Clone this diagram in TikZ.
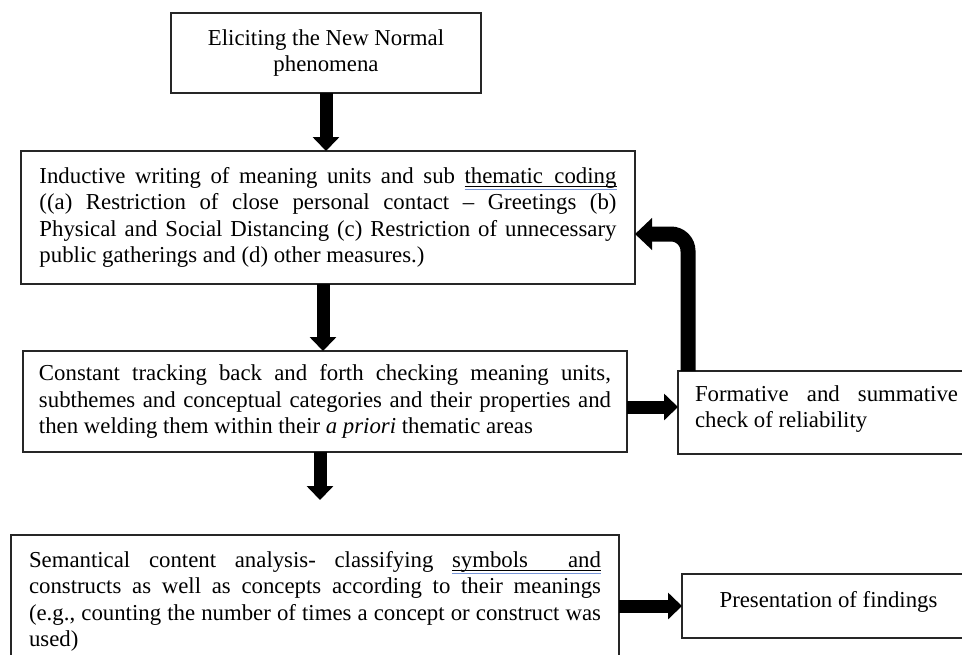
\documentclass[tikz,border=0pt]{standalone}
\usepackage{fontspec}
\setmainfont{Liberation Serif}
\usetikzlibrary{arrows.meta}
\definecolor{gramblue}{RGB}{120,150,215}
\newsavebox\grambox
\newcommand\gramline[1]{\leavevmode\sbox\grambox{#1}%
  \rlap{\rule[-2pt]{\wd\grambox}{0.45pt}}%
  \rlap{\color{gramblue}\rule[-3.2pt]{\wd\grambox}{0.4pt}}%
  \usebox\grambox}
\tolerance=10000
\hbadness=10000

\begin{document}
\begin{tikzpicture}[x=0.5pt,y=-0.5pt,
    stage/.style={draw=black!85,line width=0.6pt,fill=white,inner sep=0pt,outer sep=0pt,
      font=\fontsize{11.4pt}{13.25pt}\selectfont},
    prose/.style={stage,align=justify,text width=#1},
    flow/.style={line width=6.5pt,-{Triangle[length=7pt,width=13pt]}}]
    \useasboundingbox (0,0) rectangle (962,654);

    \node[stage,align=center,minimum width=155pt,minimum height=40pt] (top) at (326,53)
      {Eliciting the New Normal\\phenomena};
    \node[prose=288.5pt,minimum width=307pt,minimum height=66.5pt] (ind) at (328,217.5)
      {Inductive writing of meaning units and sub \gramline{thematic\ \ coding}\linebreak
       ((a) Restriction of close personal contact -- Greetings (b)\linebreak
       Physical and Social Distancing (c) Restriction of unnecessary\linebreak
       public gatherings and (d) other measures.)};
    \node[prose=286pt,minimum width=302pt,minimum height=50.5pt] (cons) at (325,401.5)
      {Constant tracking back and forth checking meaning units,\linebreak
       subthemes and conceptual categories and their properties and\linebreak
       then welding them within their \textit{a priori} thematic areas};
    \node[prose=286pt,minimum width=304pt,minimum height=66.5pt] (sem) at (315,601.5)
      {Semantical content analysis- classifying \gramline{symbols\hspace{20pt}and}\linebreak
       constructs as well as concepts according to their meanings\linebreak
       (e.g., counting the number of times a concept or construct was\linebreak
       used)};
    \node[prose=131.5pt,minimum width=148.5pt,minimum height=41.5pt,text depth=19pt] (rel) at (826.5,412.5)
      {Formative and summative\linebreak check of reliability};
    \node[stage,minimum width=146.5pt,minimum height=32pt,text depth=6.5pt] (pres) at (828.5,606)
      {Presentation of findings};
    \coordinate (gap) at (320,500);

    \draw[flow] (top.south) -- (top.south |- ind.north);
    \draw[flow] ([xshift=-2.5pt]ind.south) -- ([xshift=-2.5pt]ind.south |- cons.north);
    \draw[flow] (cons.south -| gap) -- (gap);
    \draw[flow] ([yshift=-2.75pt]cons.east) -- ([yshift=-2.75pt]cons.east -| rel.west);
    \draw[flow] (pres.west -| sem.east) -- (pres.west);
    \draw[flow,line width=7.5pt,rounded corners=8.5pt,-{Triangle[length=8.5pt,width=15.5pt]}]
      ([xshift=5pt]rel.north west) |- ([yshift=-8.25pt]ind.east);
\end{tikzpicture}
\end{document}
